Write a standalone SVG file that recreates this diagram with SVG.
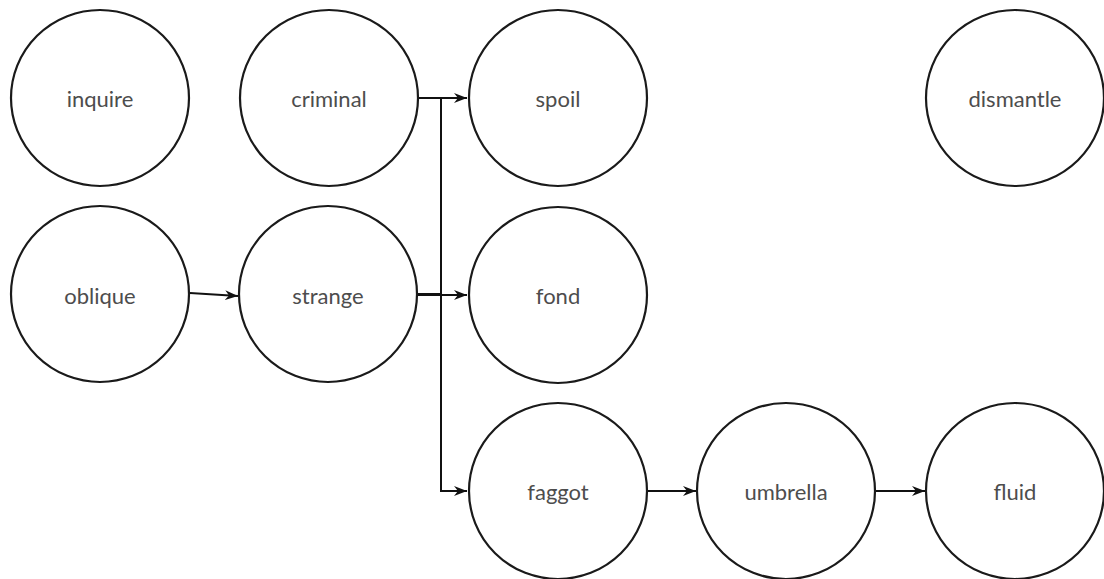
<svg xmlns="http://www.w3.org/2000/svg" width="1104" height="579" viewBox="0 0 1104 579">
<style>
.node ellipse{fill:#fff;stroke:#1a1a1a;stroke-width:2.2}
.node text{font-family:Lato,"Liberation Sans",sans-serif;font-size:22px;fill:#4d4d4d;text-anchor:middle;dominant-baseline:central}
.edge{fill:none;stroke:#111;stroke-width:2}
</style>
<defs>
<marker id="arr" markerWidth="14" markerHeight="12" refX="13" refY="6" orient="auto" markerUnits="userSpaceOnUse">
<path d="M0,1 L13,6 L0,11 L4,6 Z" fill="#111"/>
</marker>
</defs>
<g id="connectors">
<path class="edge" d="M419,98 H467" marker-end="url(#arr)"/>
<path class="edge" d="M441,98 V295"/>
<path class="edge" d="M417,295 H467" marker-end="url(#arr)"/>
<path class="edge" d="M417,294 H441 V491 H467" marker-end="url(#arr)"/>
<path class="edge" d="M190,293 L238,296" marker-end="url(#arr)"/>
<path class="edge" d="M647,491 H696" marker-end="url(#arr)"/>
<path class="edge" d="M876,491 H925" marker-end="url(#arr)"/>
</g>
<g id="inquire" class="node"><ellipse cx="100" cy="98" rx="89" ry="88"/><text x="100" y="98">inquire</text></g>
<g id="criminal" class="node"><ellipse cx="329" cy="98" rx="89" ry="88"/><text x="329" y="98">criminal</text></g>
<g id="spoil" class="node"><ellipse cx="558" cy="98" rx="89" ry="88"/><text x="558" y="98">spoil</text></g>
<g id="dismantle" class="node"><ellipse cx="1015" cy="98" rx="89" ry="88"/><text x="1015" y="98">dismantle</text></g>
<g id="oblique" class="node"><ellipse cx="100" cy="294" rx="89" ry="88"/><text x="100" y="295">oblique</text></g>
<g id="strange" class="node"><ellipse cx="328" cy="294" rx="89" ry="88"/><text x="328" y="295">strange</text></g>
<g id="fond" class="node"><ellipse cx="558" cy="295" rx="89" ry="88"/><text x="558" y="295">fond</text></g>
<g id="faggot" class="node"><ellipse cx="558" cy="491" rx="89" ry="88"/><text x="558" y="491">faggot</text></g>
<g id="umbrella" class="node"><ellipse cx="786" cy="491" rx="89" ry="88"/><text x="786" y="491">umbrella</text></g>
<g id="fluid" class="node"><ellipse cx="1015" cy="491" rx="89" ry="88"/><text x="1015" y="491">fluid</text></g>
</svg>
